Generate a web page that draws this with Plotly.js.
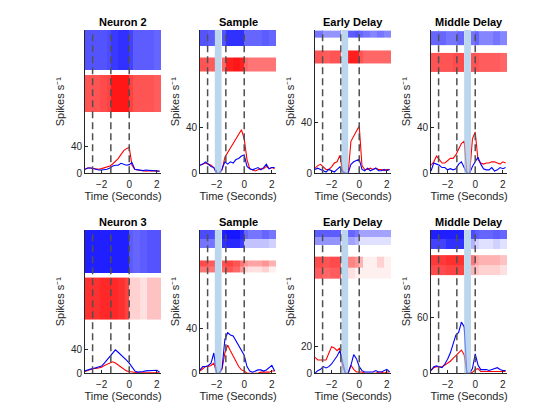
<!DOCTYPE html>
<html>
<head>
<meta charset="utf-8">
<script src="https://cdn.plot.ly/plotly-3.0.1.min.js"></script>
<style>
  html, body { margin: 0; padding: 0; background: #fff; }
  #chart { width: 560px; height: 420px; }
</style>
</head>
<body>
<div id="chart"></div>
<script>
// Time axis of the peri-stimulus histograms (s)
const t = [-3.2,-3.0,-2.8,-2.6,-2.4,-2.2,-2.0,-1.8,-1.6,-1.4,-1.2,-1.0,-0.8,-0.6,
           -0.4,-0.2,0.0,0.2,0.4,0.6,0.8,1.0,1.2,1.4,1.6,1.8,2.0,2.2];

// Firing rates (spikes/s), red and blue conditions
const neuron2Red      = [6,8,8,7,6,6,7,8,9,11,14,18,22,28,34,37,39,12,6,5,4,3,3,4,4,3,4,3];
const neuron2Blue     = [6,8,8,7,5,5,5,5,6,8,11,12,12,15,13,12,13,16,6,5,4,4,5,4,4,4,4,3];
const n2SampleRed     = [7,8,9,8,7,5,0,0,3,14,18,23,27,31,34,38,30,12,4,3,2,3,4,4,6,4,5,4];
const n2SampleBlue    = [7,8,10,8,6,5,0,0,4,10,8,10,9,12,13,15,16,6,4,3,4,5,3,5,8,4,5,5];
const n2EarlyRed      = [4,6,7,5,3,3,5,8,9,14,2,0,0,25,29,32,37,6,3,3,4,3,4,3,3,2,3,3];
const n2EarlyBlue     = [3,4,3,2,1,3,2,1,3,5,1,0,0,7,9,10,11,3,2,4,2,3,4,2,2,3,2,3];
const n2MiddleRed     = [7,10,15,12,9,9,11,13,13,16,21,26,28,0,0,30,36,12,9,8,9,9,10,10,9,8,10,9];
const n2MiddleBlue    = [2,9,8,7,5,5,3,4,3,4,8,10,5,0,0,6,10,14,8,4,3,3,5,2,3,5,4,5];
const neuron3Red      = [3,5,7,8,8,9,10,13,15,17,19,17,14,11,7,4,3,2,1,1,1,1,1,1,1,1,1,1];
const neuron3Blue     = [4,6,7,8,9,10,12,17,23,27,33,39,35,31,27,22,17,10,4,2,2,3,4,4,5,5,5,2];
const n3SampleRed     = [2,4,6,6,7,9,0,0,4,18,25,20,15,10,6,3,2,0,0,0,0,0,1,1,1,1,2,2];
const n3SampleBlue    = [3,6,6,7,9,18,0,0,5,30,36,34,33,29,25,21,16,6,2,1,2,3,3,2,3,5,7,2];
const n3EarlyRed      = [12,10,10,10,10,15,20,19,17,19,5,0,0,6,3,1,1,1,0,0,0,0,0,1,1,0,1,1];
const n3EarlyBlue     = [0,2,3,5,4,5,7,10,13,17,8,0,0,6,14,11,5,2,1,1,1,1,2,1,1,2,3,1];
const n3MiddleRed     = [3,6,7,7,7,9,11,13,16,19,22,25,20,0,0,1,4,5,2,2,2,2,2,2,2,2,2,2];
const n3MiddleBlue    = [3,7,8,7,6,10,15,22,32,41,44,55,50,0,0,5,21,9,4,4,4,3,4,5,6,4,3,3];

// Raster spike density (0..1) in time bins; each block lists its rows bottom to top
const rasterEdges = [-3.2,-2.65,-2.1,-1.6,-1.3,-0.8,-0.3,0,0.3,0.8,1.3,1.8,2.3];
const rasterBlue = [
  [[0.6,0.6,0.6,0.65,0.75,0.8,0.8,0.7,0.55,0.55,0.55,0.5]],
  [[0.6,0.55,0,0.6,0.8,0.8,0.8,0.5,0.5,0.5,0.55,0.5]],
  [[0.45,0.35,0.35,0.35,0,0.55,0.6,0.5,0.45,0.4,0.45,0.4]],
  [[0.5,0.5,0.45,0.45,0.5,0,0.45,0.5,0.4,0.4,0.45,0.4]],
  [[0.9,0.9,0.9,0.9,0.9,0.9,0.9,0.55,0.5,0.55,0.6,0.6]],
  [[0.45,0.45,0,0.8,0.85,0.85,0.75,0.2,0.2,0.2,0.2,0.15],
   [0.65,0.65,0,0.9,0.95,0.95,0.85,0.5,0.45,0.45,0.5,0.45]],
  [[0.35,0.35,0.35,0.35,0,0.3,0.25,0.1,0.1,0.1,0.1,0.1],
   [0.55,0.55,0.55,0.55,0,0.5,0.45,0.3,0.3,0.3,0.3,0.3]],
  [[0.7,0.7,0.8,0.8,0.8,0,0.25,0.15,0.1,0.1,0.15,0.1],
   [0.9,0.9,0.9,0.9,0.9,0,0.65,0.55,0.5,0.5,0.55,0.5]]
];
const rasterRed = [
  [[0.6,0.6,0.65,0.7,0.95,0.95,0.95,0.7,0.6,0.6,0.6,0.55]],
  [[0.6,0.55,0,0.5,0.9,0.95,0.9,0.5,0.45,0.45,0.45,0.45]],
  [[0.6,0.55,0.6,0.6,0,0.9,0.9,0.6,0.5,0.5,0.5,0.5]],
  [[0.6,0.6,0.6,0.65,0.65,0,0.6,0.6,0.55,0.55,0.55,0.5]],
  [[0.8,0.8,0.85,0.85,0.85,0.8,0.7,0.15,0.15,0.1,0.2,0.2]],
  [[0.45,0.45,0,0.5,0.6,0.5,0.35,0.15,0.1,0.1,0.15,0.05],
   [0.65,0.55,0,0.6,0.7,0.6,0.45,0.35,0.3,0.3,0.35,0.25]],
  [[0.55,0.5,0.55,0.55,0,0.1,0.05,0.05,0.05,0.05,0.05,0.05],
   [0.65,0.6,0.65,0.65,0,0.4,0.35,0.25,0.05,0.05,0.15,0.05]],
  [[0.65,0.65,0.7,0.7,0.7,0,0.25,0.2,0.15,0.15,0.15,0.1],
   [0.75,0.75,0.8,0.8,0.8,0,0.45,0.3,0.25,0.25,0.25,0.2]]
];
// Row boundaries of each raster block, in the axis's own units
const rasterBlueRows = [[155,215],[111,125],[106,111.5],[111.6,124],[167,238],
                        [111,119,127],[96,102,107.5],[134,144,154]];
const rasterRedRows  = [[92.5,147.5],[89,101],[86,96],[88.3,105],[89,159],
                        [89,94.5,100],[71,79,87.5],[105,116,127]];

const panelTitles = ['Neuron 2','Sample','Early Delay','Middle Delay',
                     'Neuron 3','Sample','Early Delay','Middle Delay'];
const redSeries  = [neuron2Red,n2SampleRed,n2EarlyRed,n2MiddleRed,neuron3Red,n3SampleRed,n3EarlyRed,n3MiddleRed];
const blueSeries = [neuron2Blue,n2SampleBlue,n2EarlyBlue,n2MiddleBlue,neuron3Blue,n3SampleBlue,n3EarlyBlue,n3MiddleBlue];
const yTop   = [215,125,112,125,238,127,107.5,154];
const yTicks = [[0,40],[0,40],[0,40],[0,40],[0,40],[0,40],[0,20],[0,60]];
const eventTimes = [-2.65,-1.33,0];
// Stimulus-off epochs per column (null for the whole-trial column)
const epochs = [null,[-2.13,-1.64],[-1.28,-0.8],[-0.8,-0.31]];
const xRange = [-3.2,2.3];

// Page geometry (px)
const W = 560, H = 420;
const colLeft = [85,200,315,431], axW = 76;
const rowTop = [30,230], axH = 143.3;

const FONT = 'Liberation Sans, Arial, Helvetica, sans-serif';
const INK = '#262626';

const traces = [], shapes = [], annotations = [];
const layout = {
  width: W, height: H,
  margin: {l:0,r:0,t:0,b:0},
  paper_bgcolor: '#fff', plot_bgcolor: 'rgba(0,0,0,0)',
  showlegend: false,
  font: {family: FONT, size: 10, color: INK}
};

const densityScale = rgb => [[0,'rgba(' + rgb + ',0)'],[0.5,'rgba(' + rgb + ',0.6)'],[1,'rgba(' + rgb + ',0.95)']];

for (let i = 0; i < 8; i++) {
  const n = i + 1, col = i % 4, row = Math.floor(i / 4);
  const xa = 'x' + n, ya = 'y' + n;
  const left = colLeft[col], top = rowTop[row], bottom = top + axH;

  layout['xaxis' + n] = {
    domain: [left / W, (left + axW) / W], range: xRange, anchor: ya,
    tickvals: [-2,0,2], ticks: 'inside', ticklen: 3, tickcolor: INK,
    ticklabelstandoff: 2,
    showline: true, linecolor: INK, linewidth: 1, showgrid: false, zeroline: false,
    tickfont: {family: FONT, size: 10, color: INK}, fixedrange: true,
    title: {text: 'Time (Seconds)', standoff: 3, font: {family: FONT, size: 11, color: INK}},
    automargin: false
  };
  layout['yaxis' + n] = {
    domain: [1 - bottom / H, 1 - top / H], range: [0, yTop[i]], anchor: xa,
    tickvals: yTicks[i], ticks: 'inside', ticklen: 3, tickcolor: INK,
    showline: true, linecolor: INK, linewidth: 1, showgrid: false, zeroline: false,
    tickfont: {family: FONT, size: 10, color: INK}, fixedrange: true,
    title: {text: 'Spikes s\u207B\u00B9', standoff: 4, font: {family: FONT, size: 11, color: INK}},
    automargin: false
  };

  // Spike rasters as density blocks
  traces.push({
    type: 'heatmap', xaxis: xa, yaxis: ya, x: rasterEdges, y: rasterBlueRows[i],
    z: rasterBlue[i], zmin: 0, zmax: 1, showscale: false, hoverinfo: 'skip',
    colorscale: densityScale('0,0,255')
  });
  traces.push({
    type: 'heatmap', xaxis: xa, yaxis: ya, x: rasterEdges, y: rasterRedRows[i],
    z: rasterRed[i], zmin: 0, zmax: 1, showscale: false, hoverinfo: 'skip',
    colorscale: densityScale('255,0,0')
  });

  // Firing-rate curves
  traces.push({type:'scatter', mode:'lines', xaxis: xa, yaxis: ya, x: t, y: redSeries[i],
               line: {color: 'rgb(255,0,0)', width: 1.1}, hoverinfo: 'skip'});
  traces.push({type:'scatter', mode:'lines', xaxis: xa, yaxis: ya, x: t, y: blueSeries[i],
               line: {color: 'rgb(0,0,255)', width: 1.1}, hoverinfo: 'skip'});

  // Task event markers
  eventTimes.forEach(e => shapes.push({
    type: 'line', xref: xa, yref: ya + ' domain', x0: e, x1: e, y0: 0, y1: 1,
    line: {color: 'rgb(80,80,80)', width: 1.5, dash: '7px,4px'}, layer: 'above'
  }));

  // Stimulus-off epoch
  const ep = epochs[col];
  if (ep) shapes.push({
    type: 'rect', xref: xa, yref: ya + ' domain', x0: ep[0], x1: ep[1], y0: 0, y1: 1,
    fillcolor: 'rgb(160,196,230)', opacity: 0.7, line: {width: 0}, layer: 'above'
  });

  // Panel title
  annotations.push({
    xref: 'paper', yref: 'paper', x: (left + axW / 2) / W, y: 1 - (top - 8.5) / H,
    xanchor: 'center', yanchor: 'middle', showarrow: false,
    text: '<b>' + panelTitles[i] + '</b>', font: {family: FONT, size: 11, color: '#000'}
  });
}

layout.shapes = shapes;
layout.annotations = annotations;

Plotly.newPlot('chart', traces, layout, {staticPlot: true, displayModeBar: false});
</script>
</body>
</html>
